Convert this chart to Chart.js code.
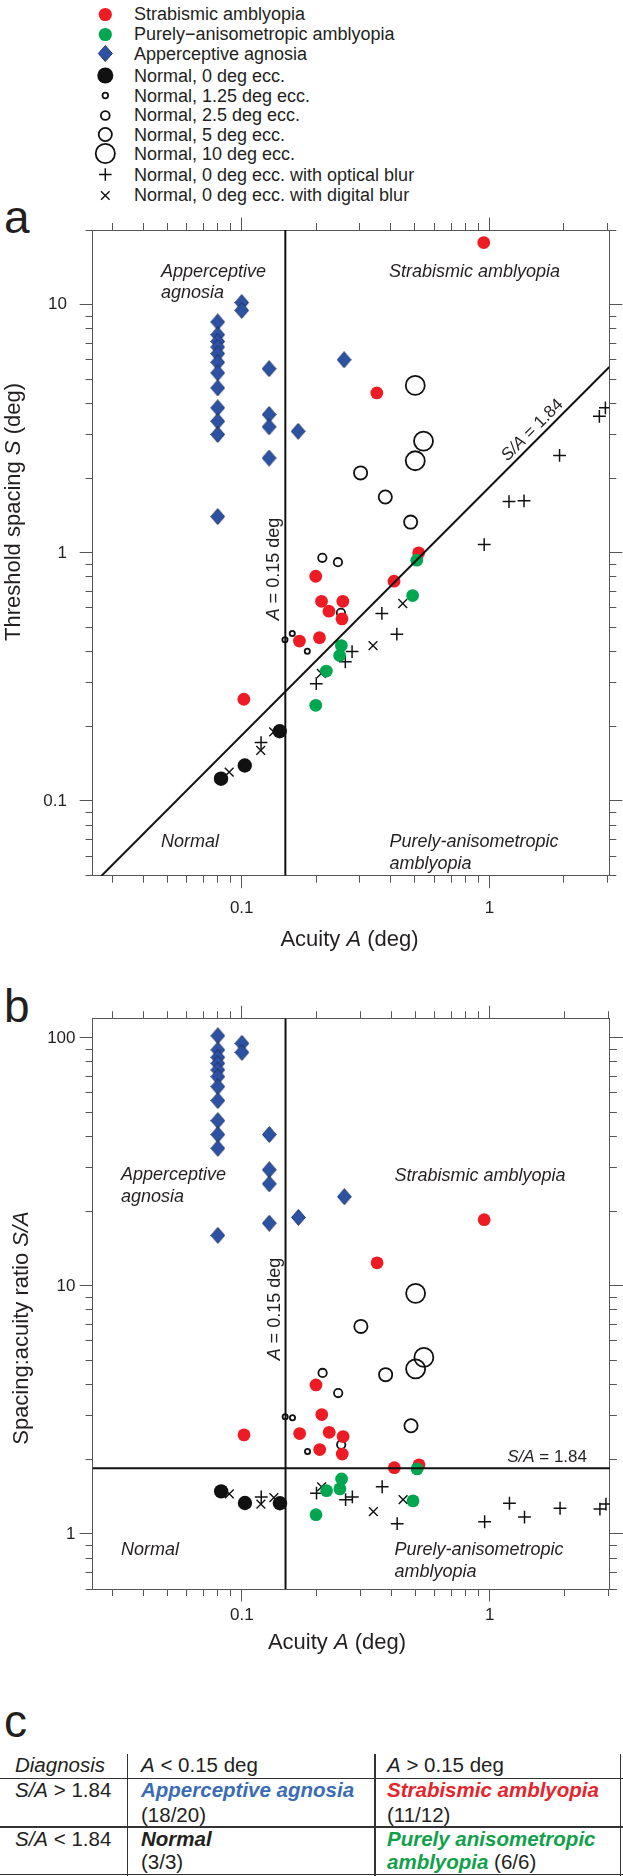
<!DOCTYPE html>
<html>
<head>
<meta charset="utf-8">
<script src="https://cdn.jsdelivr.net/npm/chart.js@4.4.1/dist/chart.umd.min.js"></script>
<style>
  html, body { margin: 0; padding: 0; background: #fff; }
  body { position: relative; width: 623px; height: 1876px; overflow: hidden;
         font-family: "Liberation Sans", Arial, sans-serif; color: #231f20; }
  .abs { position: absolute; white-space: nowrap; }
  .panel { font-size: 46px; line-height: 1; left: 4px; }
  .leg { font-size: 18px; line-height: 20px; left: 134px; }
  .cell { font-size: 20.5px; line-height: 24px; }
  .hl { position: absolute; height: 1.6px; background: #333; left: 0; width: 623px; }
  .vl { position: absolute; width: 1.6px; background: #333; top: 1754px; height: 122px; }
  canvas { position: absolute; left: 0; }
</style>
</head>
<body>

<div id="legend"></div>

<div class="abs panel" style="top:194px">a</div>
<canvas id="chartA" width="623" height="770" style="top:200px;width:623px;height:770px"></canvas>

<div class="abs panel" style="top:983px">b</div>
<canvas id="chartB" width="623" height="700" style="top:985px;width:623px;height:700px"></canvas>

<div class="abs panel" style="top:1698px">c</div>
<div id="table">
  <div class="hl" style="top:1777.5px"></div>
  <div class="hl" style="top:1826px"></div>
  <div class="hl" style="top:1873.5px"></div>
  <div class="vl" style="left:126.5px"></div>
  <div class="vl" style="left:374px"></div>
  <div class="vl" style="left:619.5px"></div>

  <div class="abs cell" style="left:15px;top:1753px"><i>Diagnosis</i></div>
  <div class="abs cell" style="left:141px;top:1753px"><i>A</i> &lt; 0.15 deg</div>
  <div class="abs cell" style="left:387px;top:1753px"><i>A</i> &gt; 0.15 deg</div>

  <div class="abs cell" style="left:15px;top:1778px"><i>S/A</i> &gt; 1.84</div>
  <div class="abs cell" style="left:141px;top:1778px;color:#3a6cb5"><b><i>Apperceptive agnosia</i></b></div>
  <div class="abs cell" style="left:141px;top:1802.5px">(18/20)</div>
  <div class="abs cell" style="left:387px;top:1778px;color:#e5242b"><b><i>Strabismic amblyopia</i></b></div>
  <div class="abs cell" style="left:387px;top:1802.5px">(11/12)</div>

  <div class="abs cell" style="left:15px;top:1827px"><i>S/A</i> &lt; 1.84</div>
  <div class="abs cell" style="left:141px;top:1827px"><b><i>Normal</i></b></div>
  <div class="abs cell" style="left:141px;top:1850px">(3/3)</div>
  <div class="abs cell" style="left:387px;top:1827px;color:#12a04a"><b><i>Purely anisometropic</i></b></div>
  <div class="abs cell" style="left:387px;top:1850px"><b><i style="color:#12a04a">amblyopia</i></b> (6/6)</div>
</div>

<script>
const FONT = '"Liberation Sans", Arial, sans-serif';
const INK = '#231f20';
const AXIS = '#555555';
const RED = '#ed1c24';
const GREEN = '#00a650';
const BLUE = '#2c53a3';

// ---- values: acuity A (deg), spacing S (deg) from panel a, ratio S/A from panel b
const agnosiaA = [0.08, 0.08, 0.08, 0.08, 0.08, 0.08, 0.08, 0.08, 0.08, 0.08, 0.08, 0.08, 0.1, 0.1, 0.129, 0.129, 0.129, 0.129, 0.169, 0.259];
const agnosiaS = [8.52, 7.57, 7.11, 6.75, 6.35, 5.86, 5.31, 4.62, 3.84, 3.39, 3.0, 1.4, 10.2, 9.49, 5.52, 3.61, 3.22, 2.41, 3.09, 6.0];
const agnosiaRatio = [102, 89.5, 83.5, 79, 74.3, 69.8, 63.6, 55.9, 46.4, 40.8, 35.9, 16.0, 95.1, 87.5, 40.8, 29.4, 25.8, 17.9, 18.9, 22.9];

const strabA = [0.949, 0.351, 0.102, 0.199, 0.210, 0.225, 0.256, 0.254, 0.171, 0.206, 0.412, 0.518];
const strabS = [17.8, 4.41, 0.257, 0.805, 0.638, 0.582, 0.638, 0.542, 0.441, 0.455, 0.769, 1.0];
const strabRatio = [18.5, 12.4, 2.51, 3.99, 3.03, 2.57, 2.47, 2.10, 2.54, 2.19, 1.85, 1.90];

const anisoA = [0.2525, 0.2485, 0.2196, 0.199, 0.490, 0.509];
const anisoS = [0.423, 0.386, 0.334, 0.243, 0.673, 0.934];
const anisoRatio = [1.667, 1.52, 1.495, 1.196, 1.36, 1.83];

const norm0A = [0.0825, 0.1029, 0.1424];
const norm0S = [0.123, 0.139, 0.191];
const norm0Ratio = [1.485, 1.333, 1.33];

const ecc125A = [0.1495, 0.160, 0.184];
const ecc125S = [0.447, 0.473, 0.4015];
const ecc125Ratio = [2.97, 2.94, 2.15];

const ecc25A = [0.2116, 0.2446, 0.2515];
const ecc25S = [0.955, 0.917, 0.573];
const ecc25Ratio = [4.46, 3.70, 2.29];

const ecc5A = [0.302, 0.380, 0.481];
const ecc5S = [2.10, 1.68, 1.33];
const ecc5Ratio = [6.87, 4.39, 2.73];

const ecc10A = [0.502, 0.542, 0.502];
const ecc10S = [4.73, 2.82, 2.35];
const ecc10Ratio = [9.34, 5.15, 4.63];

const opticalA = [0.1197, 0.200, 0.262, 0.279, 0.368, 0.423, 0.953, 1.20, 1.38, 1.92, 2.78, 2.94];
const opticalS = [0.172, 0.297, 0.364, 0.40, 0.57, 0.47, 1.08, 1.61, 1.62, 2.47, 3.55, 3.84];
const opticalRatio = [1.41, 1.46, 1.375, 1.41, 1.55, 1.10, 1.12, 1.33, 1.17, 1.27, 1.26, 1.32];

const digitalA = [0.089, 0.1193, 0.1346, 0.2097, 0.339, 0.447];
const digitalS = [0.1307, 0.160, 0.19, 0.327, 0.423, 0.625];
const digitalRatio = [1.45, 1.32, 1.40, 1.55, 1.23, 1.375];

// criteria lines
const cutoffA = 0.15;
const cutoffRatio = 1.84;

// axes
const acuityRange = [0.025, 3.05];
const spacingRange = [0.05, 20];
const ratioRange = [0.6, 120];
const acuityTicks = [0.03, 0.04, 0.05, 0.06, 0.07, 0.08, 0.09, 0.1, 0.2, 0.3, 0.4, 0.5, 0.6, 0.7, 0.8, 0.9, 1, 2, 3];
const acuityLabels = [0.1, 1];
const spacingTicks = [0.05, 0.06, 0.07, 0.08, 0.09, 0.1, 0.2, 0.3, 0.4, 0.5, 0.6, 0.7, 0.8, 0.9, 1, 2, 3, 4, 5, 6, 7, 8, 9, 10, 20];
const spacingLabels = [0.1, 1, 10];
const ratioTicks = [0.6, 0.7, 0.8, 0.9, 1, 2, 3, 4, 5, 6, 7, 8, 9, 10, 20, 30, 40, 50, 60, 70, 80, 90, 100];
const ratioLabels = [1, 10, 100];

// ---- legend (html)
const legendRows = [
  ['Strabismic amblyopia', `<circle cx="12.3" cy="12.5" r="6.6" fill="${RED}"/>`],
  ['Purely\u2212anisometropic amblyopia', `<circle cx="12.3" cy="12.5" r="6.6" fill="${GREEN}"/>`],
  ['Apperceptive agnosia', `<polygon points="12.3,4.5 19.3,12.5 12.3,20.5 5.3,12.5" fill="${BLUE}" stroke="#1a2b5e" stroke-width="0.9"/>`],
  ['Normal, 0 deg ecc.', `<circle cx="12.3" cy="12.5" r="8" fill="#111"/>`],
  ['Normal, 1.25 deg ecc.', `<circle cx="12.3" cy="12.5" r="2.8" fill="none" stroke="#111" stroke-width="1.8"/>`],
  ['Normal, 2.5 deg ecc.', `<circle cx="12.3" cy="12.5" r="4.4" fill="none" stroke="#111" stroke-width="1.8"/>`],
  ['Normal, 5 deg ecc.', `<circle cx="12.3" cy="12.5" r="6.6" fill="none" stroke="#111" stroke-width="1.8"/>`],
  ['Normal, 10 deg ecc.', `<circle cx="12.3" cy="12.5" r="9.6" fill="none" stroke="#111" stroke-width="1.8"/>`],
  ['Normal, 0 deg ecc. with optical blur', `<path d="M6 12.5H18.6M12.3 6.2V18.8" stroke="#111" stroke-width="1.5"/>`],
  ['Normal, 0 deg ecc. with digital blur', `<path d="M8 8.2L16.6 16.8M16.6 8.2L8 16.8" stroke="#111" stroke-width="1.4"/>`],
];
const legendCenters = [14, 34, 53.3, 75.7, 95.7, 115, 134.3, 153.3, 174.3, 195];
document.getElementById('legend').innerHTML = legendRows.map(([label, shape], i) => {
  const c = legendCenters[i];
  return `<svg class="abs" style="left:93px;top:${c - 12.5}px" width="25" height="25">${shape}</svg>` +
         `<div class="abs leg" style="top:${c - 9.7}px">${label}</div>`;
}).join('');

// ---- helpers
function pts(xs, ys) {
  return xs.map((x, i) => ({ x, y: ys[i] }));
}

function fontStr(style, size) {
  return `${style.includes('i') ? 'italic ' : ''}${style.includes('b') ? 'bold ' : ''}${size}px ${FONT}`;
}

// draws mixed roman/italic text in one run
function rich(ctx, parts, x, y, align, size) {
  let total = 0;
  const widths = parts.map(([t, st]) => {
    ctx.font = fontStr(st, size);
    const w = ctx.measureText(t).width;
    total += w;
    return w;
  });
  let cx = align === 'center' ? x - total / 2 : align === 'right' ? x - total : x;
  ctx.textAlign = 'left';
  parts.forEach(([t, st], i) => {
    ctx.font = fontStr(st, size);
    ctx.fillText(t, cx, y);
    cx += widths[i];
  });
}

function rotated(ctx, parts, x, y, angle, size, dy) {
  ctx.save();
  ctx.translate(x, y);
  ctx.rotate(angle);
  ctx.textBaseline = 'alphabetic';
  rich(ctx, parts, 0, dy || 0, 'center', size);
  ctx.restore();
}

function diamondImage() {
  const c = document.createElement('canvas');
  c.width = 15; c.height = 17;
  const g = c.getContext('2d');
  g.beginPath();
  g.moveTo(7.5, 0.6); g.lineTo(14.4, 8.5); g.lineTo(7.5, 16.4); g.lineTo(0.6, 8.5);
  g.closePath();
  g.fillStyle = BLUE; g.fill();
  g.strokeStyle = '#1a2b5e'; g.lineWidth = 0.9; g.stroke();
  return c;
}
const diamond = diamondImage();

function logAxis(pos, range, tickVals, labelVals, size, pad) {
  const horizontal = pos === 'top' || pos === 'bottom';
  return {
    type: 'logarithmic',
    position: pos,
    min: range[0],
    max: range[1],
    afterBuildTicks: (s) => { s.ticks = tickVals.map((v) => ({ value: v })); },
    afterFit: (s) => { if (horizontal) s.height = size; else s.width = size; },
    ticks: {
      display: labelVals.length > 0,
      autoSkip: false,
      maxRotation: 0,
      minRotation: 0,
      padding: pad,
      color: INK,
      font: { size: 17 },
      callback: (v) => (labelVals.includes(v) ? String(v) : ''),
    },
    grid: { drawOnChartArea: false, drawTicks: true, tickLength: 7, tickWidth: 1, tickColor: AXIS },
    border: { display: true, color: AXIS, width: 1 },
  };
}

// longer tick marks at the decades, plus the small overshoot of the bottom axis line
const majorTicks = {
  id: 'majorTicks',
  afterDraw(chart, args, opts) {
    const { ctx, chartArea: a } = chart;
    ctx.save();
    ctx.strokeStyle = AXIS;
    ctx.lineWidth = 1;
    ctx.beginPath();
    Object.values(chart.scales).forEach((s) => {
      const vals = s.isHorizontal() ? opts.x : opts.y;
      vals.forEach((v) => {
        const p = Math.round(s.getPixelForValue(v) - 0.5) + 0.5;
        if (s.position === 'bottom') { ctx.moveTo(p, a.bottom); ctx.lineTo(p, a.bottom + 12.5); }
        if (s.position === 'top') { ctx.moveTo(p, a.top); ctx.lineTo(p, a.top - 12.5); }
        if (s.position === 'left') { ctx.moveTo(a.left, p); ctx.lineTo(a.left - 13, p); }
        if (s.position === 'right') { ctx.moveTo(a.right, p); ctx.lineTo(a.right + 13, p); }
      });
    });
    const yb = Math.round(a.bottom - 0.5) + 0.5;
    ctx.moveTo(a.left - 6, yb);
    ctx.lineTo(a.left, yb);
    ctx.stroke();
    ctx.restore();
  },
};

function markerSets(y) {
  return [
    { data: pts(anisoA, y.aniso), pointStyle: 'circle', pointRadius: 6.4, pointBackgroundColor: GREEN, pointBorderWidth: 0, order: 1 },
    { data: pts(strabA, y.strab), pointStyle: 'circle', pointRadius: 6.4, pointBackgroundColor: RED, pointBorderWidth: 0, order: 2 },
    { data: pts(norm0A, y.norm0), pointStyle: 'circle', pointRadius: 7.2, pointBackgroundColor: '#111', pointBorderWidth: 0, order: 3 },
    { data: pts(ecc125A, y.ecc125), pointStyle: 'circle', pointRadius: 2.6, pointBackgroundColor: 'rgba(0,0,0,0)', pointBorderColor: '#111', pointBorderWidth: 1.8, order: 4 },
    { data: pts(ecc25A, y.ecc25), pointStyle: 'circle', pointRadius: 4.2, pointBackgroundColor: 'rgba(0,0,0,0)', pointBorderColor: '#111', pointBorderWidth: 1.8, order: 4 },
    { data: pts(ecc5A, y.ecc5), pointStyle: 'circle', pointRadius: 6.6, pointBackgroundColor: 'rgba(0,0,0,0)', pointBorderColor: '#111', pointBorderWidth: 1.8, order: 4 },
    { data: pts(ecc10A, y.ecc10), pointStyle: 'circle', pointRadius: 9.5, pointBackgroundColor: 'rgba(0,0,0,0)', pointBorderColor: '#111', pointBorderWidth: 1.8, order: 4 },
    { data: pts(agnosiaA, y.agnosia), pointStyle: diamond, pointRadius: 8, order: 5 },
    { data: pts(opticalA, y.optical), pointStyle: 'cross', pointRadius: 6.4, pointBorderColor: '#111', pointBorderWidth: 1.5, order: 6 },
    { data: pts(digitalA, y.digital), pointStyle: 'crossRot', pointRadius: 6.2, pointBorderColor: '#111', pointBorderWidth: 1.4, order: 7 },
  ];
}

function refLine(data) {
  return { data, showLine: true, borderColor: '#111', borderWidth: 2, pointRadius: 0, fill: false, clip: 0, order: 0 };
}

function baseOptions(yRange, yTicks, yLabels, sizes, pads) {
  return {
    responsive: false,
    maintainAspectRatio: false,
    devicePixelRatio: 1,
    animation: false,
    events: [],
    layout: { padding: 0, autoPadding: false },
    plugins: {
      legend: { display: false },
      tooltip: { enabled: false },
      majorTicks: { x: acuityLabels, y: yLabels },
    },
    scales: {
      x: logAxis('bottom', acuityRange, acuityTicks, acuityLabels, sizes.bottom, pads.x),
      x2: logAxis('top', acuityRange, acuityTicks, [], sizes.top, 0),
      y: logAxis('left', yRange, yTicks, yLabels, 92.6, pads.y),
      y2: logAxis('right', yRange, yTicks, [], 13.1, 0),
    },
  };
}

Chart.defaults.font.family = FONT;
Chart.defaults.color = INK;

// ---- panel a: threshold spacing vs acuity
const textA = {
  id: 'textA',
  afterDraw(chart) {
    const { ctx, chartArea: a, scales } = chart;
    ctx.save();
    ctx.fillStyle = INK;
    ctx.textBaseline = 'middle';
    rich(ctx, [['Apperceptive', 'i']], a.left + 68.4, a.top + 41.7, 'left', 18);
    rich(ctx, [['agnosia', 'i']], a.left + 68.4, a.top + 63.3, 'left', 18);
    rich(ctx, [['Strabismic amblyopia', 'i']], a.left + 296.4, a.top + 41.7, 'left', 18);
    rich(ctx, [['Normal', 'i']], a.left + 68.4, a.top + 611.7, 'left', 18);
    rich(ctx, [['Purely-anisometropic', 'i']], a.left + 296.8, a.top + 611.7, 'left', 18);
    rich(ctx, [['amblyopia', 'i']], a.left + 296.8, a.top + 634, 'left', 18);
    rich(ctx, [['Acuity ', ''], ['A', 'i'], [' (deg)', '']], 349.5, a.bottom + 64.3, 'center', 22);
    rotated(ctx, [['Threshold spacing ', ''], ['S', 'i'], [' (deg)', '']], 20, a.top + 282, -Math.PI / 2, 22);
    const vx = scales.x.getPixelForValue(cutoffA);
    rotated(ctx, [['A', 'i'], [' = 0.15 deg', '']], vx - 6, a.top + 339, -Math.PI / 2, 18);
    const lx = scales.x.getPixelForValue(1.59);
    const ly = scales.y.getPixelForValue(1.59 * cutoffRatio);
    rotated(ctx, [['S/A', 'i'], [' = 1.84', '']], lx, ly, -Math.PI / 4, 17, -5);
    ctx.restore();
  },
};

new Chart(document.getElementById('chartA'), {
  type: 'scatter',
  data: {
    datasets: [
      refLine([{ x: cutoffA, y: spacingRange[0] }, { x: cutoffA, y: spacingRange[1] }]),
      refLine([{ x: acuityRange[0], y: acuityRange[0] * cutoffRatio }, { x: acuityRange[1], y: acuityRange[1] * cutoffRatio }]),
      ...markerSets({
        aniso: anisoS, strab: strabS, norm0: norm0S, ecc125: ecc125S, ecc25: ecc25S,
        ecc5: ecc5S, ecc10: ecc10S, agnosia: agnosiaS, optical: opticalS, digital: digitalS,
      }),
    ],
  },
  options: baseOptions(spacingRange, spacingTicks, spacingLabels, { top: 30, bottom: 94.3 }, { x: 15.4, y: 18.6 }),
  plugins: [majorTicks, textA],
});

// ---- panel b: spacing:acuity ratio vs acuity
const textB = {
  id: 'textB',
  afterDraw(chart) {
    const { ctx, chartArea: a, scales } = chart;
    ctx.save();
    ctx.fillStyle = INK;
    ctx.textBaseline = 'middle';
    rich(ctx, [['Apperceptive', 'i']], a.left + 28.4, a.top + 156.7, 'left', 18);
    rich(ctx, [['agnosia', 'i']], a.left + 28.4, a.top + 178.7, 'left', 18);
    rich(ctx, [['Strabismic amblyopia', 'i']], a.left + 301.9, a.top + 157.7, 'left', 18);
    rich(ctx, [['Normal', 'i']], a.left + 28.4, a.top + 531.7, 'left', 18);
    rich(ctx, [['Purely-anisometropic', 'i']], a.left + 301.9, a.top + 531.7, 'left', 18);
    rich(ctx, [['amblyopia', 'i']], a.left + 301.9, a.top + 554, 'left', 18);
    rich(ctx, [['S/A', 'i'], [' = 1.84', '']], a.left + 494.4, a.top + 439, 'right', 17);
    rich(ctx, [['Acuity ', ''], ['A', 'i'], [' (deg)', '']], 337, a.bottom + 54.3, 'center', 22);
    rotated(ctx, [['Spacing:acuity ratio ', ''], ['S/A', 'i']], 28, a.top + 309.7, -Math.PI / 2, 22);
    const vx = scales.x.getPixelForValue(cutoffA);
    rotated(ctx, [['A', 'i'], [' = 0.15 deg', '']], vx - 6, a.top + 290.7, -Math.PI / 2, 18);
    ctx.restore();
  },
};

new Chart(document.getElementById('chartB'), {
  type: 'scatter',
  data: {
    datasets: [
      refLine([{ x: cutoffA, y: ratioRange[0] }, { x: cutoffA, y: ratioRange[1] }]),
      refLine([{ x: acuityRange[0], y: cutoffRatio }, { x: acuityRange[1], y: cutoffRatio }]),
      ...markerSets({
        aniso: anisoRatio, strab: strabRatio, norm0: norm0Ratio, ecc125: ecc125Ratio, ecc25: ecc25Ratio,
        ecc5: ecc5Ratio, ecc10: ecc10Ratio, agnosia: agnosiaRatio, optical: opticalRatio, digital: digitalRatio,
      }),
    ],
  },
  options: baseOptions(ratioRange, ratioTicks, ratioLabels, { top: 33.3, bottom: 96 }, { x: 8.8, y: 10.1 }),
  plugins: [majorTicks, textB],
});
</script>
</body>
</html>
